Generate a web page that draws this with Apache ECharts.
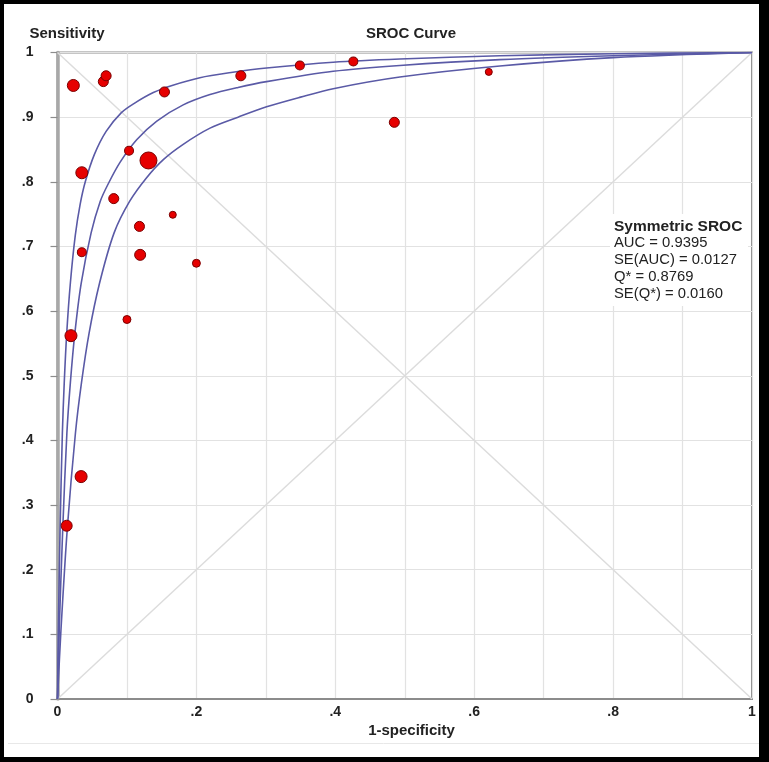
<!DOCTYPE html>
<html>
<head>
<meta charset="utf-8">
<script src="https://cdn.jsdelivr.net/npm/echarts@6/dist/echarts.min.js"></script>
<style>
html,body{margin:0;padding:0;background:#000;}
#chart{width:769px;height:762px;}
</style>
</head>
<body>
<div id="chart"></div>
<script>
// ---- data ----
const studyFpr  = [0.0228,0.066,0.070,0.154,0.264,0.349,0.426,0.621,0.485,0.103,0.131,0.035,0.081,0.166,0.118,0.035,0.119,0.200,0.100,0.0194,0.034,0.0132];
const studySens = [0.949,0.955,0.964,0.939,0.964,0.980,0.986,0.970,0.892,0.848,0.833,0.814,0.774,0.749,0.731,0.691,0.687,0.674,0.587,0.562,0.344,0.268];
const studyWeight = [50,35,35,35,35,28,28,17,35,28,100,50,35,17,35,28,42,22,22,50,50,42];

const upperCurve = [[0,0],[0.0012,0.107],[0.0037,0.262],[0.0070,0.411],[0.0097,0.489],[0.0133,0.566],[0.0185,0.643],[0.0256,0.717],[0.0326,0.765],[0.040,0.800],[0.053,0.842],[0.070,0.878],[0.092,0.907],[0.110,0.921],[0.138,0.938],[0.165,0.949],[0.205,0.961],[0.250,0.969],[0.301,0.976],[0.397,0.985],[0.493,0.990],[0.637,0.995],[0.80,0.998],[1,1]];
const sroCurve   = [[0,0],[0.0025,0.107],[0.0075,0.262],[0.0135,0.411],[0.0185,0.489],[0.025,0.566],[0.0341,0.643],[0.0484,0.721],[0.0616,0.770],[0.0731,0.797],[0.090,0.830],[0.114,0.865],[0.143,0.894],[0.181,0.919],[0.2196,0.935],[0.260,0.946],[0.301,0.955],[0.397,0.971],[0.493,0.980],[0.637,0.989],[0.80,0.995],[1,1]];
const lowerCurve = [[0,0],[0.005,0.107],[0.014,0.262],[0.0258,0.411],[0.0345,0.489],[0.0455,0.566],[0.0605,0.643],[0.0815,0.721],[0.104,0.770],[0.128,0.806],[0.152,0.834],[0.181,0.858],[0.2196,0.883],[0.260,0.900],[0.301,0.916],[0.350,0.931],[0.397,0.944],[0.493,0.962],[0.637,0.979],[0.80,0.992],[1,1]];

const diagonal     = [[0,0],[1,1]];
const antiDiagonal = [[0,1],[1,0]];

const statLines = ['AUC = 0.9395','SE(AUC) = 0.0127','Q* = 0.8769','SE(Q*) = 0.0160'];
const statTitle = 'Symmetric SROC';

function fmt(v){
  if (Math.abs(v) < 1e-9) return '0';
  if (Math.abs(v-1) < 1e-9) return '1';
  return '.' + Math.round(v*10);
}

const FONT = 'Liberation Sans, Arial, sans-serif';
const chart = echarts.init(document.getElementById('chart'), null, {renderer:'canvas'});

const points = studyFpr.map((x,i)=>[x, studySens[i], studyWeight[i]]);
const curveStyle = {color:'#5a5aa6', width:1.6};

chart.setOption({
  backgroundColor:'#000',
  animation:false,
  grid:{left:57.5, top:52.5, width:694.5, height:646.5, show:true, borderColor:'#8c8c8c', borderWidth:2, backgroundColor:'transparent'},
  xAxis:{
    type:'value', min:0, max:1, interval:0.1,
    axisLine:{show:true, onZero:false, lineStyle:{color:'#8c8c8c', width:2}},
    axisTick:{show:false},
    splitLine:{show:true, lineStyle:{color:'#e2e2e2', width:1.2}},
    axisLabel:{
      margin:6, color:'#222', fontFamily:FONT, fontWeight:'bold', fontSize:14,
      formatter:function(v){ return (Math.round(v*10)%2===0) ? fmt(v) : ''; }
    }
  },
  yAxis:{
    type:'value', min:0, max:1, interval:0.1,
    axisLine:{show:true, onZero:false, lineStyle:{color:'#a8a8a8', width:3.5}},
    axisTick:{show:true, length:7, lineStyle:{color:'#8c8c8c', width:1.2}},
    splitLine:{show:true, lineStyle:{color:'#e2e2e2', width:1.2}},
    axisLabel:{margin:24, color:'#222', fontFamily:FONT, fontWeight:'bold', fontSize:14, formatter:fmt}
  },
  graphic:{elements:[
    {type:'rect', z:-100, silent:true, shape:{x:4, y:4, width:755, height:753}, style:{fill:'#fff'}},
    {type:'line', z:-50, silent:true, shape:{x1:8, y1:743.5, x2:759, y2:743.5}, style:{stroke:'#e8e8e8', lineWidth:1}},
    {type:'text', z:100, style:{x:67, y:34, text:'Sensitivity', textAlign:'center', textVerticalAlign:'middle', font:'bold 15px '+FONT, fill:'#222'}},
    {type:'text', z:100, style:{x:411, y:34, text:'SROC Curve', textAlign:'center', textVerticalAlign:'middle', font:'bold 15px '+FONT, fill:'#222'}},
    {type:'text', z:100, style:{x:411.5, y:731, text:'1-specificity', textAlign:'center', textVerticalAlign:'middle', font:'bold 15px '+FONT, fill:'#222'}},
    {type:'rect', z:90, silent:true, shape:{x:610, y:214, width:138, height:92}, style:{fill:'#fff'}},
    {type:'text', z:100, style:{x:614, y:227, text:statTitle, textVerticalAlign:'middle', font:'bold 15.5px '+FONT, fill:'#222'}},
    {type:'text', z:100, style:{x:614, y:235, text:statLines.join('\n'), textVerticalAlign:'top', font:'14.8px '+FONT, lineHeight:16.8, fill:'#222'}}
  ]},
  series:[
    {type:'line', data:diagonal, showSymbol:false, silent:true, z:1, lineStyle:{color:'#dcdcdc', width:1.5}},
    {type:'line', data:antiDiagonal, showSymbol:false, silent:true, z:1, lineStyle:{color:'#dcdcdc', width:1.5}},
    {type:'line', data:upperCurve, showSymbol:false, smooth:0.3, z:3, lineStyle:curveStyle},
    {type:'line', data:sroCurve, showSymbol:false, smooth:0.3, z:3, lineStyle:curveStyle},
    {type:'line', data:lowerCurve, showSymbol:false, smooth:0.3, z:3, lineStyle:curveStyle},
    {type:'scatter', data:points, z:5,
     symbolSize:function(d){ return 1.7*Math.sqrt(d[2]); },
     itemStyle:{color:'#e60000', borderColor:'#7a0000', borderWidth:1, opacity:1}}
  ]
});
</script>
</body>
</html>
